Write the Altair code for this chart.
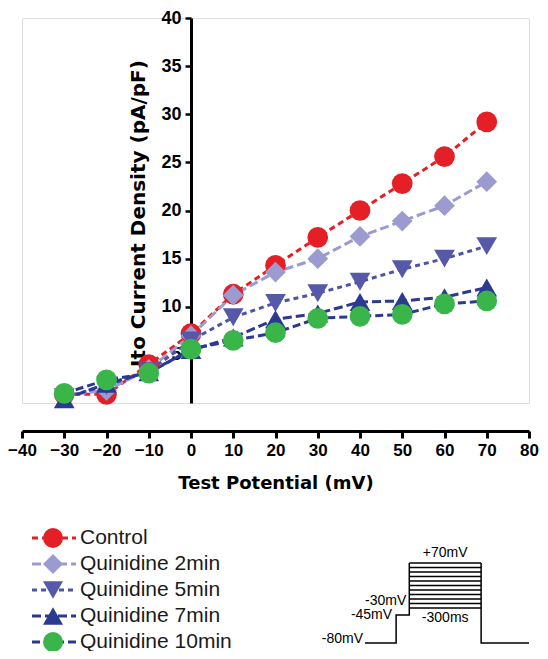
import altair as alt
import pandas as pd

# ---------------- data ----------------
voltages = [-30, -20, -10, 0, 10, 20, 30, 40, 50, 60, 70]
series_names = ["Control", "Quinidine 2min", "Quinidine 5min", "Quinidine 7min", "Quinidine 10min"]
control = [0.9, 0.9, 4.0, 7.2, 11.3, 14.3, 17.2, 20.0, 22.8, 25.6, 29.2]
quin_2 = [0.8, 1.3, 3.5, 7.0, 11.2, 13.6, 15.0, 17.3, 18.9, 20.5, 23.0]
quin_5 = [0.6, 1.8, 3.3, 6.5, 8.9, 10.4, 11.4, 12.6, 13.9, 15.0, 16.3]
quin_7 = [0.4, 2.0, 3.2, 5.5, 6.8, 8.7, 9.3, 10.5, 10.6, 11.0, 12.0]
quin_10 = [1.0, 2.4, 3.1, 5.6, 6.5, 7.3, 8.8, 9.0, 9.2, 10.3, 10.6]

x_ticks = [-40, -30, -20, -10, 0, 10, 20, 30, 40, 50, 60, 70, 80]
y_ticks = [5, 10, 15, 20, 25, 30, 35, 40]

# voltage protocol (schematic inset)
proto_levels = [-30, -20, -10, 0, 10, 20, 30, 40, 50, 60, 70]
proto_path_t = [0, 130, 130, 185, 185]
proto_path_v = [-80, -80, -45, -45, 70]
proto_tail_t = [485, 485, 685]
proto_tail_v = [70, -80, -80]
proto_label_text = ["+70mV", "-30mV", "-45mV", "-300ms", "-80mV"]
proto_label_t = [335, 185, 130, 335, 0]
proto_label_v = [70, -30, -45, -30, -80]

# ---------------- styles ----------------
marker_colors = ["#e41f26", "#9b9bd0", "#5559a8", "#2b3990", "#3ab54a"]
line_colors = ["#e41f26", "#9b9bd0", "#4b55a5", "#2b3990", "#2b3990"]
shapes = ["circle", "diamond", "triangle-down", "triangle-up", "circle"]
dashes = [[6, 4], [9, 4], [5, 4], [9, 4], [8, 4]]

W, H = 507, 385
TOP = 10
PAD = {"left": 14, "top": TOP, "right": 11, "bottom": 643 - TOP - H}

rows = []
for k, (name, vals) in enumerate(zip(series_names, [control, quin_2, quin_5, quin_7, quin_10])):
    for v, i in zip(voltages, vals):
        rows.append({"series": name, "k": k, "V": v, "I": i})
df = pd.DataFrame(rows)

xs = alt.Scale(domain=[-40, 80], nice=False, zero=False)
ys = alt.Scale(domain=[0, 40], nice=False, zero=False)
col_line = alt.Scale(domain=series_names, range=line_colors)
col_mark = alt.Scale(domain=series_names, range=marker_colors)
shp = alt.Scale(domain=series_names, range=shapes)
dsh = alt.Scale(domain=series_names, range=dashes)

y_offset = -(0 - (-40)) / 120 * W

lines = alt.Chart(df).mark_line(strokeWidth=3, strokeCap="butt").encode(
    x=alt.X("V:Q", scale=xs, axis=None),
    y=alt.Y("I:Q", scale=ys, axis=None),
    color=alt.Color("series:N", scale=col_line, legend=None),
    strokeDash=alt.StrokeDash("series:N", scale=dsh, legend=None),
    detail="series:N",
)

points = alt.Chart(df).mark_point(filled=True, opacity=1, size=430, strokeWidth=0).encode(
    x=alt.X("V:Q", scale=xs, axis=alt.Axis(
        values=x_ticks, offset=28, grid=False, domainWidth=3, domainColor="black",
        tickWidth=3, tickColor="black", tickSize=7, labelFlush=False, labelOverlap=False,
        labelFont="Liberation Sans", labelFontSize=17, labelFontWeight="bold", labelColor="black",
        labelPadding=4, title="Test Potential (mV)", titleFont="DejaVu Sans", titleFontSize=18,
        titleFontWeight="bold", titleColor="black", titlePadding=16)),
    y=alt.Y("I:Q", scale=ys, axis=alt.Axis(
        values=y_ticks, offset=y_offset, grid=False, domainWidth=3, domainColor="black",
        tickWidth=2.5, tickColor="black", tickSize=6, labelFlush=False, labelOverlap=False,
        labelFont="Liberation Sans", labelFontSize=18, labelFontWeight="bold", labelColor="black",
        labelPadding=4, title="Ito Current Density (pA/pF)", titleFont="DejaVu Sans",
        titleFontSize=20, titleFontWeight="bold", titleColor="black",
        titleX=-47, titleY=195, titleBaseline="alphabetic", titleAngle=270)),
    color=alt.Color("series:N", scale=col_mark, legend=None),
    shape=alt.Shape("series:N", scale=shp, legend=None),
    order=alt.Order("k:Q"),
)

# ---------------- custom legend ----------------
leg_df = pd.DataFrame({"series": series_names, "k": list(range(len(series_names)))})
leg_y = alt.Scale(domain=[0, len(series_names) - 1],
                  range=[538 - 8 - TOP, 642 - 8 - TOP], nice=False, zero=False)

leg_lines = alt.Chart(leg_df).mark_rule(strokeWidth=3, strokeCap="butt").encode(
    x=alt.value(10), x2=alt.value(54),
    y=alt.Y("k:Q", scale=leg_y, axis=None),
    color=alt.Color("series:N", scale=col_line, legend=None),
    strokeDash=alt.StrokeDash("series:N", scale=dsh, legend=None),
)
leg_pts = alt.Chart(leg_df).mark_point(filled=True, opacity=1, size=400, strokeWidth=0).encode(
    x=alt.value(31),
    y=alt.Y("k:Q", scale=leg_y, axis=None),
    color=alt.Color("series:N", scale=col_mark, legend=None),
    shape=alt.Shape("series:N", scale=shp, legend=None),
)
leg_txt = alt.Chart(leg_df).mark_text(
    align="left", baseline="middle", font="Liberation Sans", fontSize=21, color="#1a1a1a"
).encode(
    x=alt.value(58),
    y=alt.Y("k:Q", scale=leg_y, axis=None),
    text="series:N",
)

# ---------------- protocol inset ----------------
pt_scale = alt.Scale(domain=[0, 685], range=[343, 507], nice=False, zero=False)
pv_scale = alt.Scale(domain=[-80, -45, -30, 70],
                     range=[643 - 8 - TOP, 615 - 8 - TOP, 608 - 8 - TOP, 563 - 8 - TOP],
                     nice=False, zero=False)

path_df = pd.DataFrame({"t": proto_path_t, "v": proto_path_v, "o": list(range(len(proto_path_t)))})
tail_df = pd.DataFrame({"t": proto_tail_t, "v": proto_tail_v, "o": list(range(len(proto_tail_t)))})
lvl_df = pd.DataFrame({"v": proto_levels, "t0": [185] * len(proto_levels), "t1": [485] * len(proto_levels)})
lab_df = pd.DataFrame({"text": proto_label_text, "t": proto_label_t, "v": proto_label_v})

p_path = alt.Chart(path_df).mark_line(color="black", strokeWidth=1.5).encode(
    x=alt.X("t:Q", scale=pt_scale, axis=None),
    y=alt.Y("v:Q", scale=pv_scale, axis=None),
    order="o:Q",
)
p_tail = alt.Chart(tail_df).mark_line(color="black", strokeWidth=1.5).encode(
    x=alt.X("t:Q", scale=pt_scale, axis=None),
    y=alt.Y("v:Q", scale=pv_scale, axis=None),
    order="o:Q",
)
p_lvls = alt.Chart(lvl_df).mark_rule(color="black", strokeWidth=1.5).encode(
    x=alt.X("t0:Q", scale=pt_scale, axis=None),
    x2="t1:Q",
    y=alt.Y("v:Q", scale=pv_scale, axis=None),
)

def plabel(idx, **kw):
    d = lab_df.iloc[[idx]]
    return alt.Chart(d).mark_text(font="Liberation Sans", fontSize=14, color="black", **kw).encode(
        x=alt.X("t:Q", scale=pt_scale, axis=None),
        y=alt.Y("v:Q", scale=pv_scale, axis=None),
        text="text:N",
    )

lab_70 = plabel(0, align="center", baseline="bottom", dy=-3)
lab_30 = plabel(1, align="right", baseline="bottom", dx=-3, dy=0)
lab_45 = plabel(2, align="right", baseline="middle", dx=-4, dy=0)
lab_300 = plabel(3, align="center", baseline="top", dy=3)
lab_80 = plabel(4, align="right", baseline="bottom", dx=-2, dy=3)

chart = alt.layer(
    lines, points, leg_lines, leg_pts, leg_txt,
    p_path, p_tail, p_lvls, lab_70, lab_30, lab_45, lab_300, lab_80,
).resolve_scale(
    x="independent", y="independent", color="independent",
    shape="independent", strokeDash="independent",
).properties(
    width=W, height=H, padding=PAD,
    autosize=alt.AutoSizeParams(type="none"),
).configure_view(stroke=None).configure(background="white")

chart.save("out.html", embed_options={"renderer": "svg", "actions": False})
